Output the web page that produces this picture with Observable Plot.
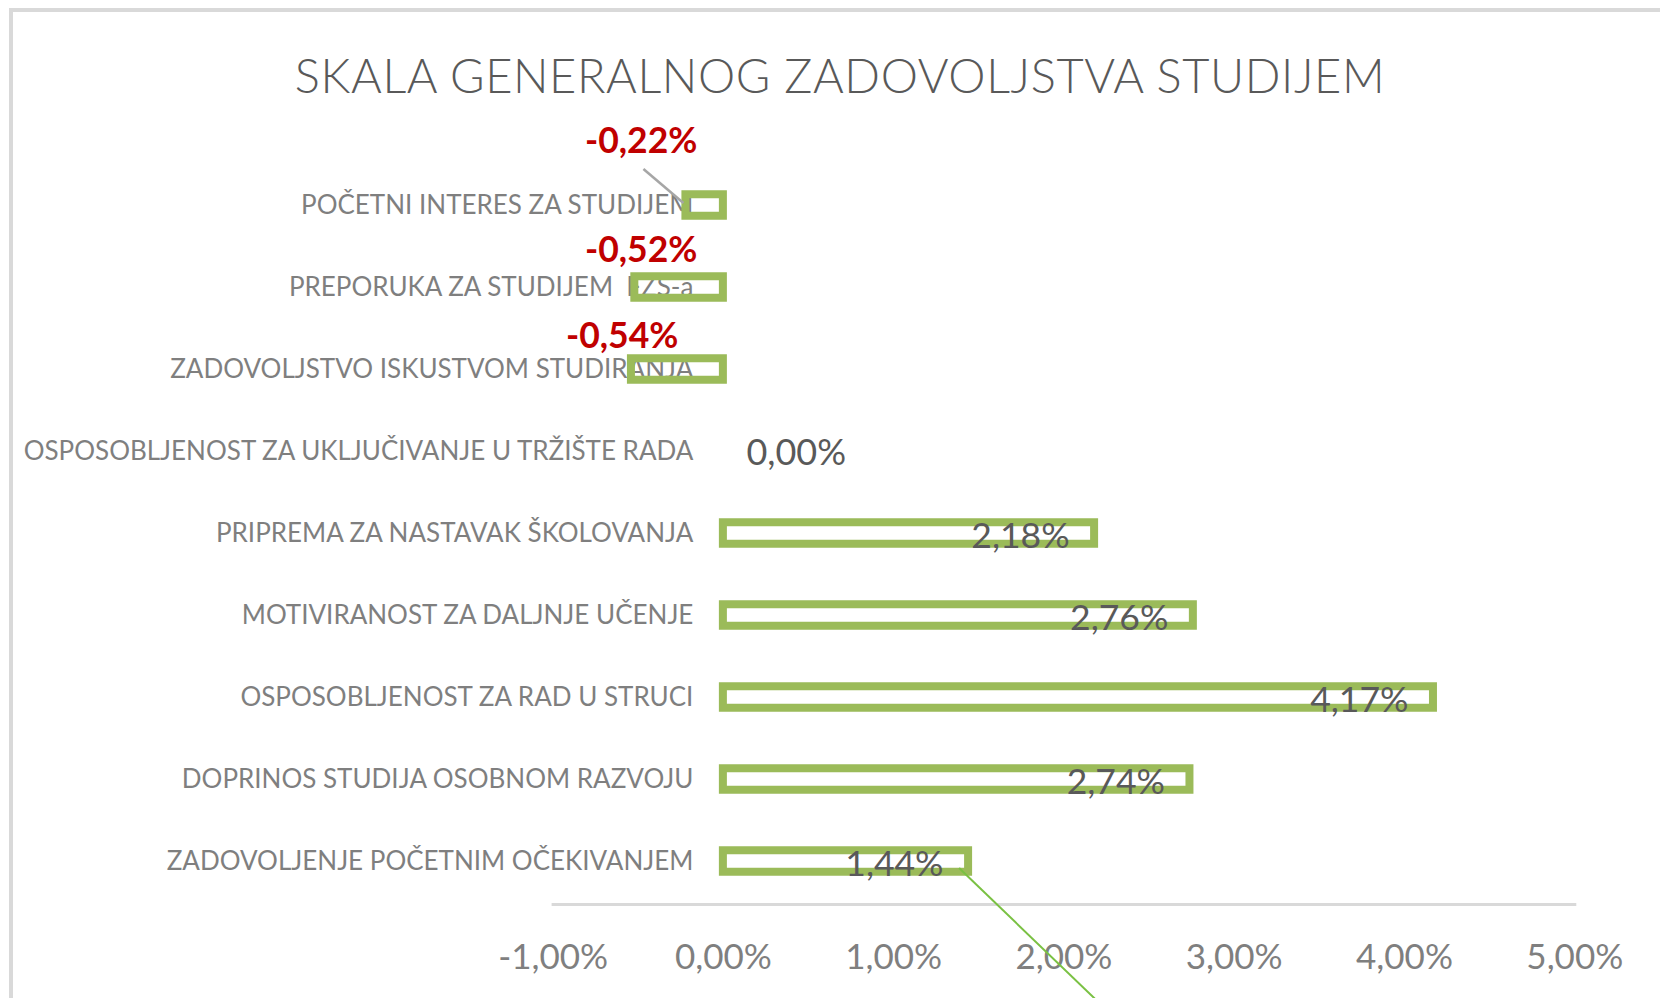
<!DOCTYPE html>
<html>
<head>
<meta charset="utf-8">
<script src="https://cdn.jsdelivr.net/npm/d3@7"></script>
<script src="https://cdn.jsdelivr.net/npm/@observablehq/plot@0.6"></script>
<style>
  html, body { margin: 0; padding: 0; width: 1660px; height: 998px; overflow: hidden; background: #fff; font-family: Lato, sans-serif; }
  #chart { position: absolute; left: 0; top: 0; }
  #frame { position: absolute; left: 9px; top: 8px; width: 2000px; height: 2000px; border: 4px solid #d9d9d9; box-sizing: border-box; pointer-events: none; }
  #title { position: absolute; left: 0; top: 47px; width: 1680px; text-align: center; font-family: Lato, sans-serif; font-size: 47px; font-weight: 300; letter-spacing: 0.6px; line-height: 1.2; color: #595959; }
</style>
</head>
<body>
<div id="chart"></div>
<div id="frame"></div>
<div id="title">SKALA GENERALNOG ZADOVOLJSTVA STUDIJEM</div>
<script>
const categories = [
  "POČETNI INTERES ZA STUDIJEM",
  "PREPORUKA ZA STUDIJEM  FZS-a",
  "ZADOVOLJSTVO ISKUSTVOM STUDIRANJA",
  "OSPOSOBLJENOST ZA UKLJUČIVANJE U TRŽIŠTE RADA",
  "PRIPREMA ZA NASTAVAK ŠKOLOVANJA",
  "MOTIVIRANOST ZA DALJNJE UČENJE",
  "OSPOSOBLJENOST ZA RAD U STRUCI",
  "DOPRINOS STUDIJA OSOBNOM RAZVOJU",
  "ZADOVOLJENJE POČETNIM OČEKIVANJEM"
];
const values = [-0.22, -0.52, -0.54, 0.00, 2.18, 2.76, 4.17, 2.74, 1.44];
const xTicks = [-1, 0, 1, 2, 3, 4, 5];

const data = categories.map((c, i) => ({category: c, value: values[i]}));
const fmt = v => v.toFixed(2).replace(".", ",") + "%";
const bars = data.filter(d => d.value !== 0);
const pos = data.filter(d => d.value > 0);
const zero = data.filter(d => d.value === 0);
const neg = data.filter(d => d.value < 0);

const GREEN = "#9bbb59";
const LEADER_GREEN = "#7ac143";

function leaders(index, scales) {
  const x = scales.x, y = scales.y;
  const bw = y.bandwidth ? y.bandwidth() : 0;
  const g = d3.create("svg:g");
  const a = neg[0];
  const ya = y(a.category) + bw / 2;
  g.append("line")
    .attr("x1", x(a.value) - 42).attr("y1", ya - 36)
    .attr("x2", x(a.value) - 2).attr("y2", ya - 2)
    .attr("stroke", "#a6a6a6").attr("stroke-width", 2.5);
  const b = data[data.length - 1];
  const yb = y(b.category) + bw / 2;
  g.append("line")
    .attr("x1", x(b.value) - 9).attr("y1", yb + 7)
    .attr("x2", x(b.value) - 9 + 240).attr("y2", yb + 7 + 231)
    .attr("stroke", LEADER_GREEN).attr("stroke-width", 2);
  return g.node();
}

const chart = Plot.plot({
  width: 1660,
  height: 998,
  marginLeft: 552.6,
  marginRight: 85.7,
  marginTop: 162,
  marginBottom: 94,
  style: {background: "transparent", fontFamily: "Lato, sans-serif"},
  x: {domain: [-1, 5]},
  y: {domain: categories, padding: 0, axis: null},
  marks: [
    Plot.frame({anchor: "bottom", stroke: "#d9d9d9", strokeWidth: 3}),
    Plot.axisX(xTicks, {anchor: "bottom", tickSize: 0, tickPadding: 40, tickFormat: fmt, fontSize: 35, color: "#7f7f7f", label: null}),
    Plot.text(categories, {x: 0, y: d => d, text: d => d, textAnchor: "end", dx: -30, fontSize: 26, fill: "#7f7f7f"}),
    Plot.barX(bars, {x: "value", y: "category", fill: "none", stroke: GREEN, strokeWidth: 8, insetTop: 30.25, insetBottom: 30.25}),
    Plot.text(pos, {x: "value", y: "category", text: d => fmt(d.value), textAnchor: "end", dx: -25, dy: 3, fontSize: 35.5, fill: "#595959"}),
    Plot.text(zero, {x: 0, y: "category", text: d => fmt(d.value), textAnchor: "start", dx: 23, dy: 2, fontSize: 36, fill: "#595959"}),
    Plot.text([neg[0]], {x: 0, y: "category", text: d => fmt(d.value), textAnchor: "end", dx: -26, dy: -64, fontSize: 35.5, fontWeight: "bold", fill: "#c00000"}),
    Plot.text([neg[1]], {x: 0, y: "category", text: d => fmt(d.value), textAnchor: "end", dx: -26, dy: -37, fontSize: 35.5, fontWeight: "bold", fill: "#c00000"}),
    Plot.text([neg[2]], {x: 0, y: "category", text: d => fmt(d.value), textAnchor: "end", dx: -45, dy: -33, fontSize: 35.5, fontWeight: "bold", fill: "#c00000"}),
    leaders
  ]
});
document.getElementById("chart").appendChild(chart);
</script>
</body>
</html>
